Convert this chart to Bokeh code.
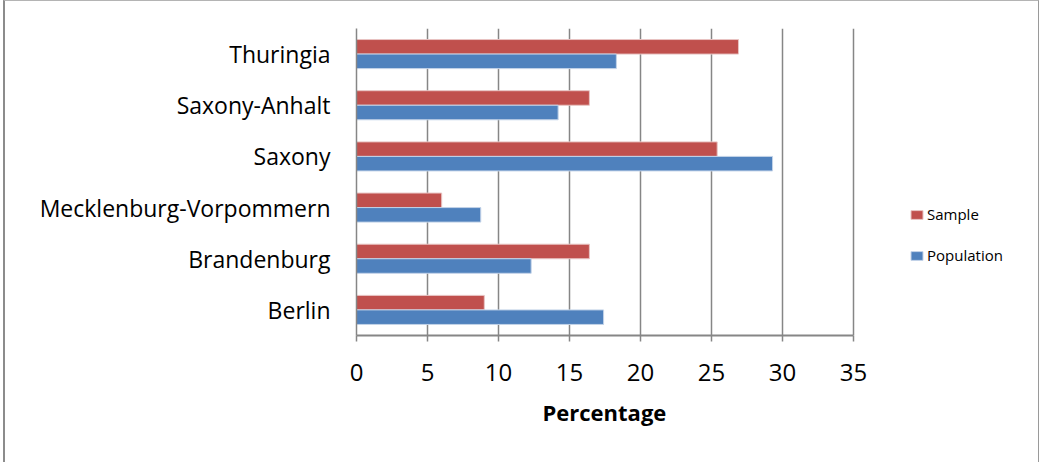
from bokeh.plotting import figure
from bokeh.models import (ColumnDataSource, FactorRange, Range1d, FixedTicker,
                          Legend, LegendItem, Title)
from bokeh.transform import dodge
from bokeh.embed import file_html
from bokeh.resources import INLINE

states = ["Berlin", "Brandenburg", "Mecklenburg-Vorpommern", "Saxony",
          "Saxony-Anhalt", "Thuringia"]
sample = [9.0, 16.4, 6.0, 25.4, 16.4, 26.9]
population = [17.4, 12.3, 8.75, 29.3, 14.2, 18.3]
x_ticks = [0, 5, 10, 15, 20, 25, 30, 35]
x_max = 35
x_label = "Percentage"

# layout (canvas pixels)
W, H = 1036, 462
left, top, axis_px = 351, 27, 497
right_border = 6
frame_w = W - left - right_border
x_end = x_max * frame_w / axis_px  # frame widened so the legend sits inside it

src = ColumnDataSource(dict(state=states, sample=sample, population=population))

p = figure(width=W, height=H, output_backend="svg", toolbar_location=None,
           y_range=FactorRange(*states, range_padding=0),
           x_range=Range1d(0, x_end))
p.min_border_left = left
p.min_border_right = right_border
p.min_border_top = top
p.min_border_bottom = H - top - 307
p.outline_line_color = None
p.background_fill_color = "white"
p.border_fill_color = "white"

r_s = p.hbar(y=dodge("state", 0.142, range=p.y_range), right="sample", left=0,
             height=0.284, source=src, fill_color="#C0504D",
             line_color="#E8C4C3", line_width=1)
r_p = p.hbar(y=dodge("state", -0.142, range=p.y_range), right="population", left=0,
             height=0.284, source=src, fill_color="#4F81BD",
             line_color="#C3D3E8", line_width=1)

# x axis
xa = p.xaxis[0]
xa.ticker = FixedTicker(ticks=x_ticks)
xa.bounds = (0, x_max)
xa.major_label_text_font = "Open Sans"
xa.major_label_text_font_size = "24px"
xa.major_label_text_color = "black"
xa.major_label_standoff = 22
xa.axis_line_color = "#868686"
xa.axis_line_width = 2
xa.major_tick_line_color = "#868686"
xa.major_tick_line_width = 1.5
xa.major_tick_out = 6
xa.major_tick_in = 0
xa.minor_tick_line_color = None

# axis title placed under the 0..35 span
t = Title(text=x_label, align="left", offset=186,
          standoff=22, text_font="Open Sans", text_font_style="bold",
          text_font_size="22px", text_color="black")
p.add_layout(t, "below")

# y axis
ya = p.yaxis[0]
ya.major_label_text_font = "Open Sans"
ya.major_label_text_font_size = "23px"
ya.major_label_text_color = "black"
ya.major_label_standoff = 20
ya.axis_line_color = "#868686"
ya.axis_line_width = 1.5
ya.major_tick_line_color = None
ya.minor_tick_line_color = None

p.xgrid.grid_line_color = "#868686"
p.xgrid.grid_line_width = 1.5
p.ygrid.grid_line_color = None

legend = Legend(items=[LegendItem(label="Sample", renderers=[r_s]),
                       LegendItem(label="Population", renderers=[r_p])],
                location=(553, 70), orientation="vertical",
                glyph_width=15, glyph_height=11, label_height=20,
                label_standoff=3, spacing=21, padding=0, margin=0,
                label_text_font="Open Sans", label_text_font_size="15px",
                label_text_color="black",
                border_line_color=None, background_fill_alpha=0)
p.add_layout(legend, "center")

p.styles = {"border-left": "2px solid #8c8c8c", "border-top": "1px solid #b4b4b4",
            "border-right": "1px solid #9a9a9a", "margin-left": "3px"}

open("out.html", "w").write(file_html(p, INLINE))
